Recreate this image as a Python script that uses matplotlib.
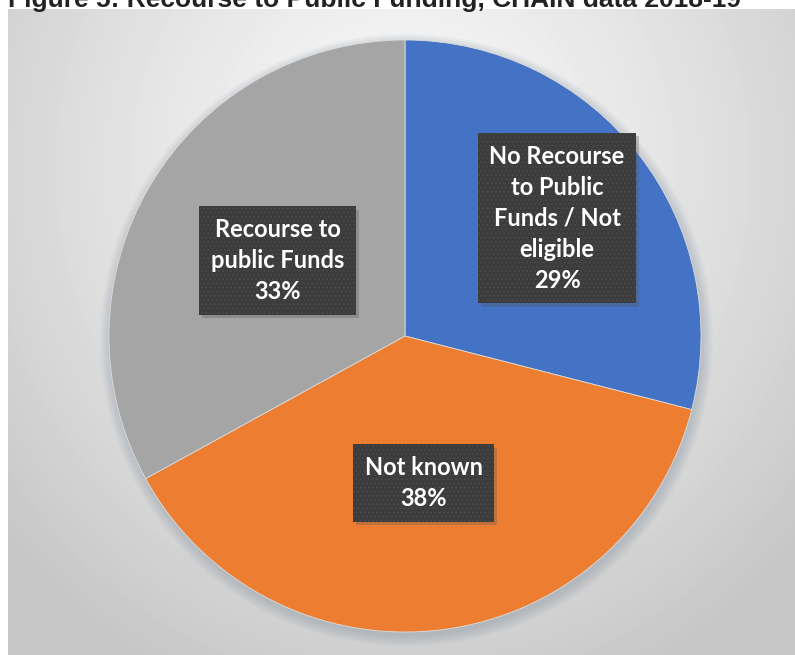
import numpy as np
import matplotlib.pyplot as plt
from matplotlib.patches import Circle

# Chart data
categories = ['No Recourse\nto Public\nFunds / Not\neligible', 'Not known', 'Recourse to\npublic Funds']
shares = [29, 38, 33]
colors = ['#4472C4', '#ED7D31', '#A5A5A5']
label_dist = [0.65, 0.50, 0.50]
title = 'Figure 5: Recourse to Public Funding, CHAIN data 2018-19'

plt.rcParams['hatch.linewidth'] = 0.6

W, H = 795, 655
fig = plt.figure(figsize=(W / 100, H / 100), dpi=100)
fig.patch.set_facecolor('white')

# chart area with a radial grey gradient
bg = fig.add_axes([8 / W, 0, 787 / W, 646 / H])
yy, xx = np.mgrid[0:646, 0:787]
d = np.sqrt(((xx - 395) / 520.0) ** 2 + ((yy - 160) / 560.0) ** 2)
d = np.clip(d, 0, 1)
light, dark = 0.975, 0.78
grad = light - (light - dark) * d ** 1.3
bg.imshow(grad, cmap='gray', vmin=0, vmax=1, aspect='auto', interpolation='bilinear')
bg.axis('off')

# pie
r_px = 296
cx, cy = 405, H - 336
ax = fig.add_axes([(cx - r_px) / W, (cy - r_px) / H, 2 * r_px / W, 2 * r_px / H])

wedges, _ = ax.pie(shares, colors=colors, startangle=90, counterclock=False,
                   radius=1.0, wedgeprops=dict(edgecolor='#dcdcdc', linewidth=0.6))
for w in wedges:
    w.set_zorder(2)
ax.set_xlim(-1, 1)
ax.set_ylim(-1, 1)
ax.axis('off')

# soft shadow under the pie
for k in range(8):
    ax.add_patch(Circle((0.005, -0.014), 1.0 + 0.005 * k, facecolor='#7f8fa0',
                        alpha=0.05, edgecolor='none', zorder=0, clip_on=False))

for w, lab, val, ld in zip(wedges, categories, shares, label_dist):
    ang = np.radians((w.theta1 + w.theta2) / 2)
    x, y = ld * np.cos(ang), ld * np.sin(ang)
    txt = f'{lab}\n{val}%'
    # box shadow
    ax.text(x + 0.01, y - 0.012, txt, ha='center', va='center',
            fontsize=17, family='Lato', weight='bold', color='none',
            linespacing=1.42, zorder=3,
            bbox=dict(boxstyle='square,pad=0.5', facecolor='#555555',
                      edgecolor='none', alpha=0.3))
    ax.text(x, y, txt, ha='center', va='center',
            fontsize=17, family='Lato', weight='bold', color='white',
            linespacing=1.42, zorder=4,
            bbox=dict(boxstyle='square,pad=0.5', facecolor='#3c3c3c',
                      edgecolor='#4c4c4c', linewidth=0, hatch='....'))

fig.text(8 / W, (H - 7) / H, title, fontsize=19, weight='bold',
         family='Liberation Sans', color='#222222', va='baseline', ha='left')

fig.savefig('out.png', dpi=100)
